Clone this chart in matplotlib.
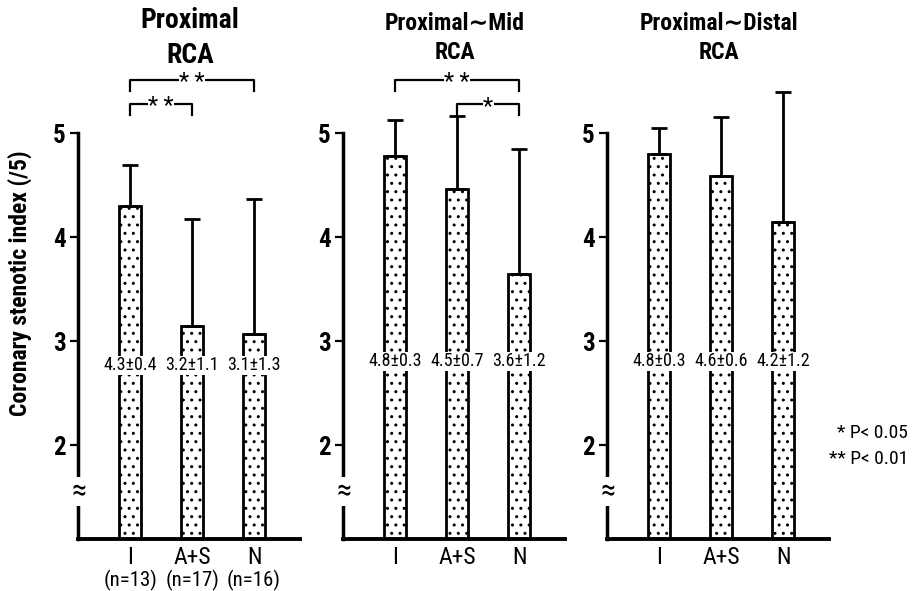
import matplotlib
matplotlib.use("Agg")
import matplotlib.pyplot as plt
from matplotlib import font_manager

# pick a narrow sans if there is one
names = set(f.name for f in font_manager.fontManager.ttflist)
cond = "DejaVu Sans"
for nm in ["Liberation Sans Narrow", "DejaVu Sans Condensed", "Roboto Condensed", "Open Sans Condensed"]:
    if nm in names:
        cond = nm
        break
plt.rcParams['font.family'] = [cond, 'DejaVu Sans']

# data
groups = ["I", "A+S", "N"]
n_labels = ["(n=13)", "(n=17)", "(n=16)"]
titles = ["Proximal\nRCA", "Proximal\u223cMid\nRCA", "Proximal\u223cDistal\nRCA"]

prox_mean = [4.3, 3.15, 3.07]
prox_sd = [0.4, 1.03, 1.3]
prox_txt = ["4.3\u00b10.4", "3.2\u00b11.1", "3.1\u00b11.3"]

mid_mean = [4.78, 4.47, 3.65]
mid_sd = [0.35, 0.7, 1.2]
mid_txt = ["4.8\u00b10.3", "4.5\u00b10.7", "3.6\u00b11.2"]

dist_mean = [4.8, 4.59, 4.15]
dist_sd = [0.25, 0.57, 1.25]
dist_txt = ["4.8\u00b10.3", "4.6\u00b10.6", "4.2\u00b11.2"]

# significance: (bar a, bar b, level, stars)
prox_sig = [(0, 2, 5.51, "* *"), (0, 1, 5.28, "* *")]
mid_sig = [(0, 2, 5.51, "* *"), (1, 2, 5.28, "*")]
dist_sig = []

panels = [
    (prox_mean, prox_sd, prox_txt, prox_sig, True, 2.77),
    (mid_mean, mid_sd, mid_txt, mid_sig, False, 2.81),
    (dist_mean, dist_sd, dist_txt, dist_sig, False, 2.81),
]

W, H = 914, 591
fig = plt.figure(figsize=(W / 100, H / 100), dpi=100)

ybot, ytop = 1.1, 6.1
lefts = [78, 343, 607]
xs = [0, 1, 2]

for k, (mean, sd, txt, sig, shown, ty) in enumerate(panels):
    ax = fig.add_axes([lefts[k] / W, 1 - 539 / H, 222 / W, 520 / H])
    ax.bar(xs, mean, width=0.35, bottom=0, color="white", edgecolor="black",
           linewidth=2.0, hatch="..", zorder=2)
    ax.errorbar(xs, mean, yerr=[[0, 0, 0], sd], fmt="none", ecolor="black",
                elinewidth=2.0, capsize=6, capthick=2.0, zorder=3)
    for i in range(3):
        ax.text(xs[i], ty, txt[i], ha="center", va="center",
                fontsize=13, zorder=4,
                bbox=dict(facecolor="white", edgecolor="none", pad=0.3))
    for a, b, lev, st in sig:
        ax.plot([xs[a], xs[a], xs[b], xs[b]], [lev - 0.1, lev, lev, lev - 0.1],
                color="black", lw=1.6, clip_on=False)
        ax.text((xs[a] + xs[b]) / 2, lev - 0.02, st, ha="center", va="center",
                fontsize=17, bbox=dict(facecolor="white", edgecolor="none", pad=0.3))

    ax.set_xlim(-0.84, 2.74)
    ax.set_ylim(ybot, ytop)
    ax.set_xticks(xs)
    ax.set_xticklabels(groups, fontsize=17)
    if shown:
        for i in range(3):
            ax.text(xs[i], -0.08, n_labels[i], transform=ax.get_xaxis_transform(),
                    ha="center", va="center", fontsize=15)
    ax.set_yticks([2, 3, 4, 5])
    ax.set_yticklabels(["2", "3", "4", "5"], fontsize=18, fontweight="bold")
    ax.tick_params(axis="x", length=0, pad=5)
    ax.tick_params(axis="y", length=6, width=1.6, pad=3)
    for s in ["top", "right"]:
        ax.spines[s].set_visible(False)
    ax.spines["left"].set_linewidth(2.5)
    ax.spines["bottom"].set_linewidth(2.8)
    ax.spines["left"].set_bounds(ybot, 5)
    # break mark on y axis
    ax.text(-0.82, 1.56, "\u2248", ha="center", va="center", fontsize=22,
            bbox=dict(facecolor="white", edgecolor="none", pad=0),
            clip_on=False, zorder=5)
    fig.text((lefts[k] + 112) / W, 1 - 38 / H, titles[k], ha="center", va="center",
             fontsize=20 if k == 0 else 17, fontweight="bold", linespacing=1.35)

fig.text(20 / W, 1 - 283 / H, "Coronary stenotic index (/5)", rotation=90,
         ha="center", va="center", fontsize=17, fontweight="bold")

fig.text(908 / W, 1 - 433 / H, "* P< 0.05", ha="right", va="center", fontsize=14)
fig.text(908 / W, 1 - 459 / H, "** P< 0.01", ha="right", va="center", fontsize=14)

fig.savefig("out.png", dpi=100)
